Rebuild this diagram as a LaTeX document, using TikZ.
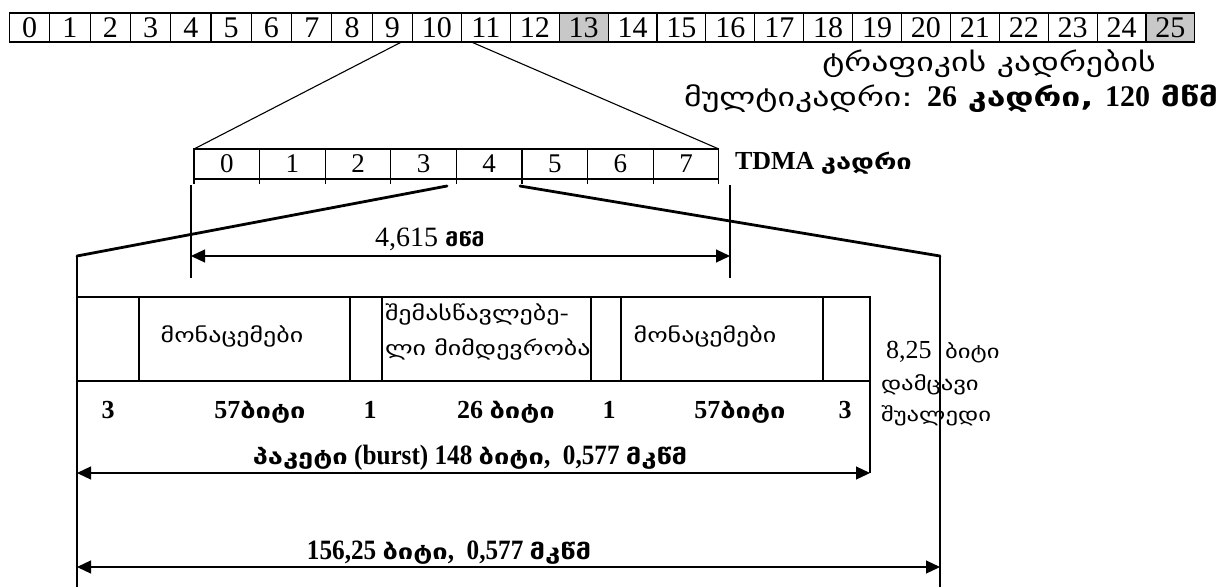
\documentclass[tikz,border=0pt]{standalone}
\usepackage{fontspec}
\setmainfont{Liberation Serif}
\newfontfamily\geo{DejaVu Sans}[FakeStretch=1.3]
\newfontfamily\lcond{Liberation Serif}[FakeStretch=0.9]
\usetikzlibrary{arrows.meta,calc}
\definecolor{cellgray}{RGB}{200,200,200}
\newcommand{\fs}[1]{\fontsize{#1}{#1}\selectfont}
\tikzset{
  cell/.style={draw, line width=1.1pt, inner sep=0pt, outer sep=0pt, font=\fs{30}},
  tcell/.style={draw, line width=1.1pt, inner sep=0pt, outer sep=0pt, minimum width=65.6pt, minimum height=30pt, font=\fs{27}},
  seg/.style={draw, line width=1.3pt, inner sep=0pt, outer sep=0pt, minimum height=84pt},
  thin/.style={line width=1.1pt},
  thick2/.style={line width=2.8pt},
  dim/.style={line width=1.2pt, {Triangle[length=14pt,width=13pt]}-{Triangle[length=14pt,width=13pt]}},
  lbl/.style={inner sep=0pt, outer sep=0pt},
  bits/.style={lbl, anchor=base, font=\fs{26}\bfseries},
}
\begin{document}
\begin{tikzpicture}[x=1pt,y=-1pt]
\useasboundingbox (0,0) rectangle (1224,587);
% multiframe strip
\foreach \i in {0,...,25}{
  \pgfmathsetmacro\xa{\i<=10 ? 9.5+40.3*\i : 412.5+48.9*(\i-10)}
  \pgfmathsetmacro\xb{\i<10 ? 9.5+40.3*(\i+1) : 412.5+48.9*(\i-9)}
  \pgfmathsetmacro\w{\xb-\xa}
  \ifnum\i=13 \def\fc{cellgray}\else\ifnum\i=25 \def\fc{cellgray}\else\def\fc{white}\fi\fi
  \node[cell, fill=\fc, minimum width=\w pt, minimum height=29pt] (s\i) at ({(\xa+\xb)/2},27.5) {\i};
}
\node[lbl, font=\geo\fs{26}] (ml1) at (989,64) {ტრაფიკის კადრების};
\node[lbl, anchor=east, font=\geo\fs{26}] (ml2) at (1218,99) {მულტიკადრი: \textbf{\rmfamily\fs{30}26} \textbf{კადრი, \rmfamily\fs{30}120} \textbf{მწმ}};
% TDMA frame
\foreach \i in {0,...,7}{
  \node[tcell] (t\i) at ({194+65.6*\i+32.8},164) {\i};
  \draw[thin] (t\i.south west) -- ++(0,5);
}
\draw[thin] (t7.south east) -- ++(0,5);
\node[lbl, anchor=west, font=\fs{26}\bfseries] (tdma) at (735,163) {TDMA {\geo\fs{21}კადრი}};
\coordinate (e1) at ($(s9.south east)+(-11,0)$);
\coordinate (e2) at ($(s11.south west)+(10,0)$);
\draw[thin] (e1) -- (t0.north west);
\draw[thin] (e2) -- (t7.north east);
% zoom lines to burst
\coordinate (z1) at (447,186);
\coordinate (z2) at (520,186);
\coordinate (L) at (77,256);
\coordinate (R) at (940,256);
\draw[thick2, line cap=round] (z1) -- (L);
\draw[thick2, line cap=round] (z2) -- (R);
\coordinate (v1t) at (191,185); \coordinate (v1b) at (191,278);
\coordinate (v2t) at (730,185); \coordinate (v2b) at (730,278);
\draw[thin] (v1t) -- (v1b);
\draw[thin] (v2t) -- (v2b);
\coordinate (a1) at (191,256); \coordinate (a2) at (730,256);
\draw[dim] (a1) -- (a2);
\node[lbl, anchor=base, font=\fs{28}] (tl) at (430,246) {4,615 {\geo\bfseries\fs{18}მწმ}};
\coordinate (Lb) at (77,587);
\coordinate (Rb) at (940,587);
\draw[line width=1.3pt] (L) -- (Lb);
\draw[line width=1.3pt] (R) -- (Rb);
% burst segments
\node[seg, minimum width=62pt] (g1) at (108,339) {};
\node[seg, minimum width=211pt] (d1) at (244.5,339) {};
\node[seg, minimum width=32pt] (f1) at (366,339) {};
\node[seg, minimum width=209pt] (tr) at (486.5,339) {};
\node[seg, minimum width=30pt] (f2) at (606,339) {};
\node[seg, minimum width=202pt] (d2) at (722,339) {};
\node[seg, minimum width=47pt] (g2) at (846.5,339) {};
\node[lbl, font=\geo\fs{20}] (d1t) at (232,336) {მონაცემები};
\node[lbl, font=\geo\fs{20}] (d2t) at (705,336) {მონაცემები};
\node[lbl, anchor=base west, font=\geo\fs{20}] (trt) at (385,320) {შემასწავლებე-};
\node[lbl, anchor=base west, font=\geo\fs{20}] (trt2) at (385,355) {ლი მიმდევრობა};
\coordinate (bt) at (870,473);
\draw[line width=1.3pt] (g2.north east) -- (bt);
% bit counts
\node[bits] (n1) at (108,418) {3};
\node[bits] (n2) at (260,418) {57{\geo\fs{21}ბიტი}};
\node[bits] (n3) at (370,418) {1};
\node[bits] (n4) at (506,418) {26 {\geo\fs{21}ბიტი}};
\node[bits] (n5) at (609,418) {1};
\node[bits] (n6) at (740,418) {57{\geo\fs{21}ბიტი}};
\node[bits] (n7) at (845,418) {3};
% guard
\node[lbl, anchor=base west, font=\fs{26}] (gp1) at (886,358) {8,25};
\node[lbl, anchor=base west, font=\geo\fs{19}] (gp2) at (945,358) {ბიტი};
\node[lbl, anchor=base west, font=\geo\fs{19}] (gp3) at (881,390) {დამცავი};
\node[lbl, anchor=base west, font=\geo\fs{19}] (gp4) at (881,421) {შუალედი};
% burst length
\coordinate (b1) at (77,473);
\draw[dim] (b1) -- (bt);
\node[lbl, anchor=base, font=\lcond\fs{28}\bfseries] (btx) at (470,464) {{\geo\fs{21}პაკეტი} (burst) 148 {\geo\fs{21}ბიტი},\ \ 0,577\ {\geo\fs{21}მკწმ}};
% full slot
\coordinate (c1) at (77,567); \coordinate (c2) at (940,567);
\draw[dim] (c1) -- (c2);
\node[lbl, anchor=base, font=\lcond\fs{28}\bfseries] (ctx) at (449,559) {156,25\ {\geo\fs{21}ბიტი},\ \ 0,577\ {\geo\fs{21}მკწმ}};
\end{tikzpicture}
\end{document}
